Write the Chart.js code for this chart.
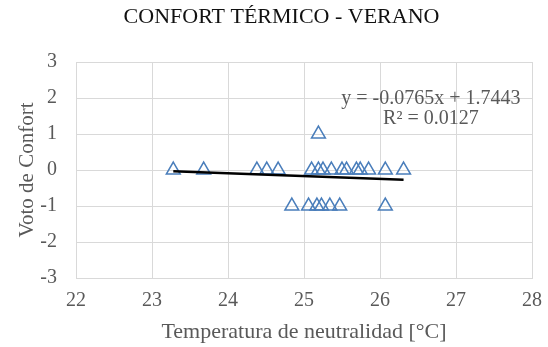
<!DOCTYPE html>
<html>
<head>
<meta charset="utf-8">
<script src="https://cdn.jsdelivr.net/npm/chart.js@4.4.1/dist/chart.umd.min.js"></script>
<style>
  html, body { margin: 0; padding: 0; background: #ffffff; }
  #wrap { width: 548px; height: 347px; }
</style>
</head>
<body>
<div id="wrap"><canvas id="c" width="548" height="347"></canvas></div>
<script>
// Data
const tempX = [23.28, 23.68, 24.38, 24.51, 24.66, 25.10, 25.19, 25.25, 25.36, 25.50, 25.56, 25.69, 25.74, 25.85, 26.07, 26.31,
               24.84, 25.06, 25.17, 25.23, 25.34, 25.47, 26.07,
               25.19];
const votoY = [0, 0, 0, 0, 0, 0, 0, 0, 0, 0, 0, 0, 0, 0, 0, 0,
               -1, -1, -1, -1, -1, -1, -1,
               1];
const trendSlope = -0.0765;
const trendIntercept = 1.7443;
const trendRange = [23.28, 26.31];
const equationLines = ["y = -0.0765x + 1.7443", "R² = 0.0127"];
const xTicks = [22, 23, 24, 25, 26, 27, 28];
const yTicks = [-3, -2, -1, 0, 1, 2, 3];

const points = tempX.map((x, i) => ({ x: x, y: votoY[i] }));
const trend = trendRange.map(x => ({ x: x, y: trendSlope * x + trendIntercept }));

const serif = "'Liberation Serif', 'DejaVu Serif', serif";
const grey = '#595959';

const equationPlugin = {
  id: 'equation',
  afterDatasetsDraw(chart) {
    const { ctx, scales } = chart;
    const cx = scales.x.getPixelForValue(26.67);
    const y1 = scales.y.getPixelForValue(1.98);
    const y2 = scales.y.getPixelForValue(1.42);
    ctx.save();
    ctx.font = "20px " + serif;
    ctx.fillStyle = grey;
    ctx.textAlign = 'center';
    ctx.textBaseline = 'middle';
    ctx.fillText(equationLines[0], cx, y1);
    ctx.fillText(equationLines[1], cx, y2);
    ctx.restore();
  }
};

new Chart(document.getElementById('c'), {
  type: 'scatter',
  data: {
    datasets: [
      {
        label: 'Voto',
        data: points,
        pointStyle: 'triangle',
        pointRadius: 8,
        pointHoverRadius: 8,
        backgroundColor: 'rgba(0,0,0,0)',
        borderColor: '#4a7ebb',
        borderWidth: 1.5,
        order: 2
      },
      {
        label: 'Tendencia',
        type: 'line',
        data: trend,
        borderColor: '#000000',
        borderWidth: 2.5,
        pointRadius: 0,
        fill: false,
        order: 1
      }
    ]
  },
  options: {
    responsive: false,
    animation: false,
    layout: { padding: { left: 15, right: 0, top: 0, bottom: 0 } },
    plugins: {
      legend: { display: false },
      tooltip: { enabled: false },
      title: {
        display: true,
        text: 'CONFORT TÉRMICO - VERANO',
        color: '#111111',
        font: { family: serif, size: 22, weight: 'normal' },
        padding: { top: 4, bottom: 31.6 }
      }
    },
    scales: {
      x: {
        type: 'linear',
        min: 22, max: 28,
        afterBuildTicks(scale) { scale.ticks = xTicks.map(v => ({ value: v })); },
        afterFit(scale) { scale.height = 69; scale.paddingRight = 16; },
        grid: { color: '#d9d9d9', lineWidth: 1, drawTicks: false },
        border: { display: true, color: '#d9d9d9' },
        ticks: { color: grey, font: { family: serif, size: 20 }, padding: 11 },
        title: {
          display: true,
          text: 'Temperatura de neutralidad [°C]',
          color: grey,
          font: { family: serif, size: 22 },
          padding: { top: 0, bottom: 2 }
        }
      },
      y: {
        type: 'linear',
        min: -3, max: 3,
        afterBuildTicks(scale) { scale.ticks = yTicks.map(v => ({ value: v })); },
        afterFit(scale) { scale.width = 61; },
        grid: { color: '#d9d9d9', lineWidth: 1, drawTicks: false },
        border: { display: true, color: '#d9d9d9' },
        ticks: { color: grey, font: { family: serif, size: 20 }, padding: 19 },
        title: {
          display: true,
          text: 'Voto de Confort',
          color: grey,
          font: { family: serif, size: 21 },
          padding: { top: 0, bottom: 0 }
        }
      }
    }
  },
  plugins: [equationPlugin]
});
</script>
</body>
</html>
